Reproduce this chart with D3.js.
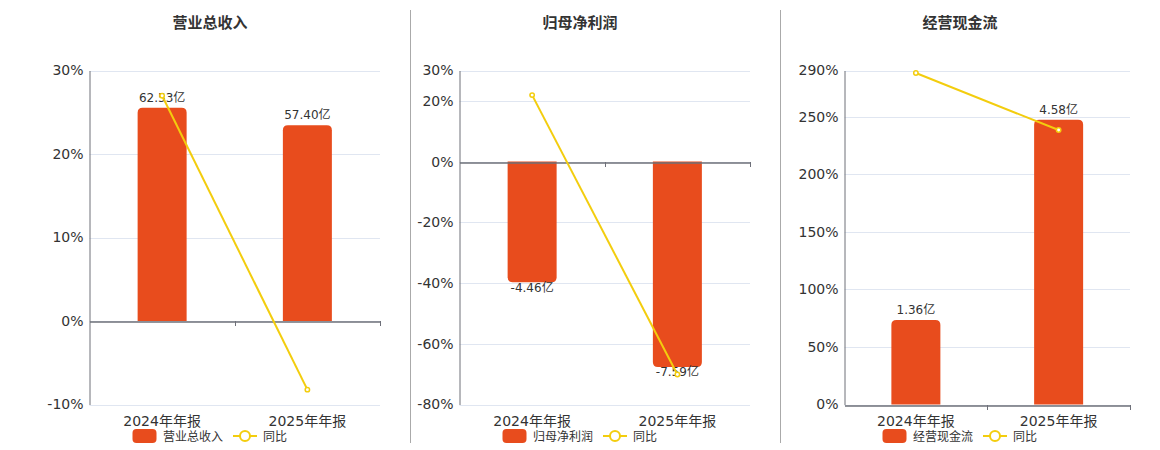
<!DOCTYPE html>
<html>
<head>
<meta charset="utf-8">
<script src="https://cdn.jsdelivr.net/npm/d3@7"></script>
<style>
  body { margin: 0; background: #fff; }
  svg { display: block; font-family: "DejaVu Sans", "Noto Sans CJK SC", sans-serif; }
</style>
</head>
<body>
<svg id="chart" width="1160" height="450"></svg>
<script>
// data
var categories = ["2024年年报", "2025年年报"];

var revenue = [62.53, 57.40];          // 亿
var revenueYoy = [26.98, -8.22];        // %
var netProfit = [-4.46, -7.59];
var netProfitYoy = [21.9, -70.1];
var cashFlow = [1.36, 4.58];
var cashFlowYoy = [287.8, 238.3];

var revenueTicks = [-10, 0, 10, 20, 30];
var netProfitTicks = [-80, -60, -40, -20, 0, 20, 30];
var cashFlowTicks = [0, 50, 100, 150, 200, 250, 290];

var barColor = "#e84c1d";
var lineColor = "#f3cd0e";

var panels = [
    { title: "营业总收入", bars: revenue, yoy: revenueYoy, ticks: revenueTicks,
      barDomain: [-24.4, 73.45], left: 89.5, right: 380, center: 210 },
    { title: "归母净利润", bars: netProfit, yoy: netProfitYoy, ticks: netProfitTicks,
      barDomain: [-8.98, 3.37], left: 459.5, right: 750, center: 580 },
    { title: "经营现金流", bars: cashFlow, yoy: cashFlowYoy, ticks: cashFlowTicks,
      barDomain: [0, 5.37], left: 844.5, right: 1130, center: 960 }
];

var plotTop = 70.5, plotBottom = 404.5;
var svg = d3.select("#chart");

// dividers between panels
[410.5, 780.5].forEach(function(x) {
    svg.append("line")
        .attr("x1", x).attr("x2", x)
        .attr("y1", 10).attr("y2", 443)
        .attr("stroke", "#aaa").attr("stroke-width", 1);
});

// bar path with rounded corners at the far end only
function barPath(x, w, y0, y1, r) {
    var h = Math.abs(y1 - y0);
    r = Math.min(r, h, w / 2);
    if (y1 < y0) {
        return "M" + x + "," + y0 + "V" + (y1 + r) + "Q" + x + "," + y1 + " " + (x + r) + "," + y1 +
            "H" + (x + w - r) + "Q" + (x + w) + "," + y1 + " " + (x + w) + "," + (y1 + r) + "V" + y0 + "Z";
    }
    return "M" + x + "," + y0 + "V" + (y1 - r) + "Q" + x + "," + y1 + " " + (x + r) + "," + y1 +
        "H" + (x + w - r) + "Q" + (x + w) + "," + y1 + " " + (x + w) + "," + (y1 - r) + "V" + y0 + "Z";
}

panels.forEach(function(p) {
    var g = svg.append("g");

    var x = d3.scaleBand().domain(categories).range([p.left, p.right]);
    var y = d3.scaleLinear().domain(d3.extent(p.ticks)).range([plotBottom, plotTop]);
    var yb = d3.scaleLinear().domain(p.barDomain).range([plotBottom, plotTop]);
    var zero = y(0);

    g.append("text")
        .attr("x", p.center).attr("y", 28)
        .attr("text-anchor", "middle")
        .attr("font-size", 15).attr("font-weight", "bold")
        .attr("fill", "#333")
        .text(p.title);

    // grid lines
    g.selectAll(".grid").data(p.ticks).enter().append("line")
        .attr("x1", p.left).attr("x2", p.right)
        .attr("y1", function(d) { return Math.round(y(d)) + 0.5; })
        .attr("y2", function(d) { return Math.round(y(d)) + 0.5; })
        .attr("stroke", "#e0e6f1").attr("stroke-width", 1);

    // y axis
    var yAxis = d3.axisLeft(y).tickValues(p.ticks).tickSize(0).tickPadding(6)
        .tickFormat(function(d) { return d + "%"; });
    var ya = g.append("g").attr("transform", "translate(" + p.left + ",0)").call(yAxis);
    ya.select(".domain").attr("stroke", "#6e7079");
    ya.selectAll("text").attr("font-size", 14).attr("fill", "#333")
        .attr("font-family", "DejaVu Sans, sans-serif");

    // bars
    var bw = 49;
    g.selectAll(".bar").data(p.bars).enter().append("path")
        .attr("d", function(d, i) {
            var cx = x(categories[i]) + x.bandwidth() / 2;
            return barPath(cx - bw / 2, bw, zero, yb(d), 5);
        })
        .attr("fill", barColor);

    // x axis at zero line
    var xAxis = d3.axisBottom(x).tickSize(0).tickPadding(0).tickFormat("");
    var xa = g.append("g").attr("transform", "translate(0," + (Math.round(zero) + 0.5) + ")").call(xAxis);
    xa.select(".domain").attr("stroke", "#6e7079").attr("stroke-width", 1.5);
    xa.selectAll(".tick").remove();
    var bounds = x.domain().map(function(c) { return x(c) + x.bandwidth(); });
    g.selectAll(".xt").data(bounds).enter().append("line")
        .attr("x1", function(d) { return Math.round(d) + 0.5; })
        .attr("x2", function(d) { return Math.round(d) + 0.5; })
        .attr("y1", Math.round(zero)).attr("y2", Math.round(zero) + 5)
        .attr("stroke", "#6e7079");

    // category labels under the plot
    g.selectAll(".cat").data(categories).enter().append("text")
        .attr("x", function(d) { return x(d) + x.bandwidth() / 2; })
        .attr("y", 425.5)
        .attr("text-anchor", "middle")
        .attr("font-size", 14).attr("fill", "#333")
        .text(function(d) { return d; });

    // bar value labels
    g.selectAll(".lbl").data(p.bars).enter().append("text")
        .attr("x", function(d, i) { return x(categories[i]) + x.bandwidth() / 2; })
        .attr("y", function(d) { return d >= 0 ? yb(d) - 6 : yb(d) + 9.5; })
        .attr("text-anchor", "middle")
        .attr("font-size", 12).attr("fill", "#333")
        .text(function(d) { return d.toFixed(2) + "亿"; });

    // yoy line
    var line = d3.line()
        .x(function(d, i) { return x(categories[i]) + x.bandwidth() / 2; })
        .y(function(d) { return y(d); });
    g.append("path").datum(p.yoy)
        .attr("d", line)
        .attr("fill", "none").attr("stroke", lineColor).attr("stroke-width", 2);
    g.selectAll(".pt").data(p.yoy).enter().append("circle")
        .attr("cx", function(d, i) { return x(categories[i]) + x.bandwidth() / 2; })
        .attr("cy", function(d) { return y(d); })
        .attr("r", 2.2)
        .attr("fill", "#fff").attr("stroke", lineColor).attr("stroke-width", 1.5);

    // legend
    var lg = g.append("g").attr("transform", "translate(" + (p.center - 77.5) + ",436)");
    lg.append("rect").attr("x", 0).attr("y", -7).attr("width", 24).attr("height", 14)
        .attr("rx", 4).attr("fill", barColor);
    lg.append("text").attr("x", 30.5).attr("y", 4.5)
        .attr("font-size", 12).attr("fill", "#333").text(p.title);
    lg.append("line").attr("x1", 100.5).attr("x2", 124.5).attr("y1", 0).attr("y2", 0)
        .attr("stroke", lineColor).attr("stroke-width", 2);
    lg.append("circle").attr("cx", 112.5).attr("cy", 0).attr("r", 5)
        .attr("fill", "#fff").attr("stroke", lineColor).attr("stroke-width", 2);
    lg.append("text").attr("x", 130.5).attr("y", 4.5)
        .attr("font-size", 12).attr("fill", "#333").text("同比");
});
</script>
</body>
</html>
